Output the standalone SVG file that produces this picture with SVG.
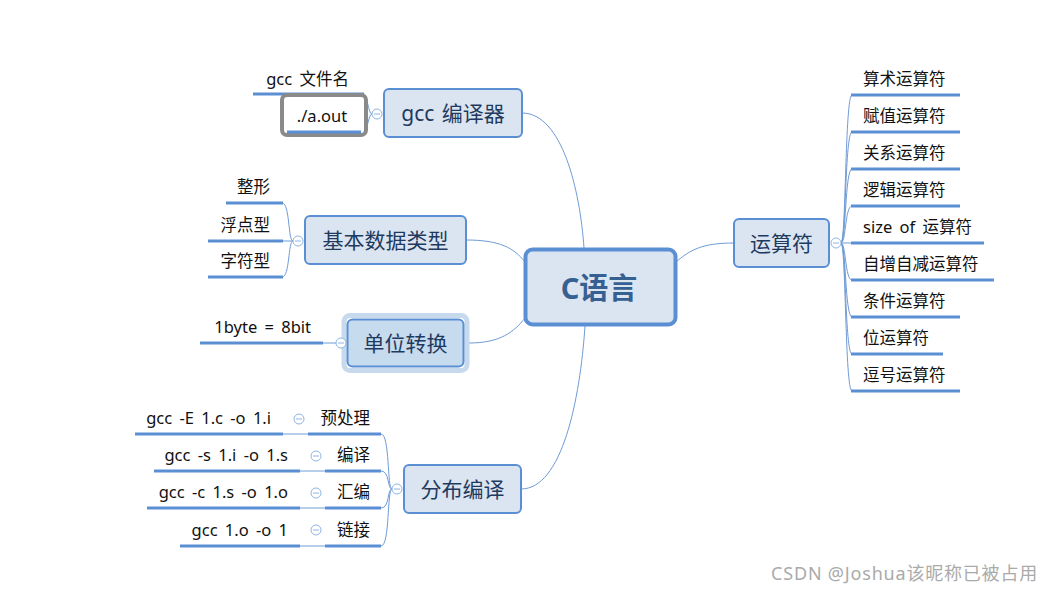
<svg xmlns="http://www.w3.org/2000/svg" width="1053" height="593" viewBox="0 0 1053 593">
<style>
.box{fill:#dbe5f1;stroke:#5b8fd4;stroke-width:2}
.nt{font-family:"Noto Sans","Noto Sans CJK SC",sans-serif;font-size:21px;fill:#1f3a60;text-anchor:middle;word-spacing:2px}
.ct{font-family:"Noto Sans","Noto Sans CJK SC",sans-serif;font-size:16.5px;fill:#111;word-spacing:3px}
.ul{stroke:#5b8fd4;stroke-width:3;fill:none}
.cn{stroke:#6f9bd6;stroke-width:1;fill:none}
.cc{fill:#fff;stroke:#8eb4e3;stroke-width:1}
.cm{stroke:#8eb4e3;stroke-width:1}
.e{text-anchor:end}
</style>
<rect width="1053" height="593" fill="#fff"/>
<g id="connectors">
<path class="cn" d="M522,113 C562,113 580,190 584,248"/>
<path class="cn" d="M466,240 C500,240 514,248 525,262"/>
<path class="cn" d="M469,343 C500,343 514,332 525,318"/>
<path class="cn" d="M521,489 C562,489 580,400 585,326"/>
<path class="cn" d="M734,243 C702,243 690,250 676,262"/>
<path class="cn" d="M372,114 C368,114 368,94 362,94"/>
<path class="cn" d="M372,114 C368,114 368,133 362,133"/>
<path class="cn" d="M293,241 C288,241 290,203 282,203"/>
<path class="cn" d="M293,241 L282,241"/>
<path class="cn" d="M293,241 C288,241 290,277 282,277"/>
<path class="cn" d="M336,343 L323,343"/>
<path class="cn" d="M392,489 C387,489 390,434 381,434"/>
<path class="cn" d="M392,489 C387,489 390,471 381,471"/>
<path class="cn" d="M392,489 C387,489 390,508 381,508"/>
<path class="cn" d="M392,489 C387,489 390,546 381,546"/>
<path class="cn" d="M283,434 L308,434"/>
<path class="cn" d="M300,471 L325,471"/>
<path class="cn" d="M300,508 L325,508"/>
<path class="cn" d="M300,546 L325,546"/>
<path class="cn" d="M841,243 C846,243 845,95 852,95"/>
<path class="cn" d="M841,243 C846,243 845,132 852,132"/>
<path class="cn" d="M841,243 C846,243 845,169 852,169"/>
<path class="cn" d="M841,243 C846,243 845,206 852,206"/>
<path class="cn" d="M841,243 L852,243"/>
<path class="cn" d="M841,243 C846,243 845,280 852,280"/>
<path class="cn" d="M841,243 C846,243 845,317 852,317"/>
<path class="cn" d="M841,243 C846,243 845,354 852,354"/>
<path class="cn" d="M841,243 C846,243 845,391 852,391"/>
</g>
<g id="center">
<rect x="525.5" y="249.5" width="150" height="75" rx="7" fill="#dbe5f1" stroke="#5b8fd4" stroke-width="4"/>
<text x="599" y="299" font-family="Noto Sans,'Noto Sans CJK SC',sans-serif" font-size="29" font-weight="bold" fill="#376092" text-anchor="middle">C语言</text>
</g>
<g id="gcc">
<rect class="box" x="384" y="89" width="138" height="48" rx="5"/>
<text class="nt" x="453" y="121">gcc 编译器</text>
<circle class="cc" cx="377" cy="114" r="5"/><line class="cm" x1="374" y1="114" x2="380" y2="114"/>
</g>
<g id="gcc-filename">
<line class="ul" x1="253" y1="94" x2="364" y2="94"/>
<text class="ct e" x="349" y="85">gcc 文件名</text>
</g>
<g id="aout">
<rect x="282" y="95" width="84" height="40" rx="5" fill="#fff" stroke="#8a8a8a" stroke-width="4"/>
<line class="ul" x1="287" y1="132" x2="361" y2="132"/>
<text class="ct" x="322" y="122" text-anchor="middle">./a.out</text>
</g>
<g id="basic">
<rect class="box" x="305" y="216" width="161" height="48" rx="5"/>
<text class="nt" x="385.5" y="248">基本数据类型</text>
<circle class="cc" cx="298" cy="241" r="5"/><line class="cm" x1="295" y1="241" x2="301" y2="241"/>
</g>
<g id="int"><line class="ul" x1="226" y1="203" x2="283" y2="203"/><text class="ct e" x="270" y="193">整形</text></g>
<g id="float"><line class="ul" x1="208" y1="241" x2="283" y2="241"/><text class="ct e" x="270" y="231">浮点型</text></g>
<g id="char"><line class="ul" x1="208" y1="277" x2="283" y2="277"/><text class="ct e" x="270" y="267">字符型</text></g>
<g id="unit">
<rect x="344" y="315.5" width="123" height="55" rx="6" fill="none" stroke="#c6d9ed" stroke-width="5"/>
<rect x="347.5" y="319.5" width="116" height="47" rx="5" fill="#c6dbee" stroke="#5b8fd4" stroke-width="2"/>
<text class="nt" x="405.5" y="351">单位转换</text>
<circle class="cc" cx="341" cy="343" r="5"/><line class="cm" x1="338" y1="343" x2="344" y2="343"/>
</g>
<g id="byte"><line class="ul" x1="200" y1="343" x2="323" y2="343"/><text class="ct e" x="311" y="333">1byte = 8bit</text></g>
<g id="dist">
<rect class="box" x="404" y="465" width="117" height="48" rx="5"/>
<text class="nt" x="462.5" y="497">分布编译</text>
<circle class="cc" cx="397" cy="489" r="5"/><line class="cm" x1="394" y1="489" x2="400" y2="489"/>
</g>
<g id="pre">
<line class="ul" x1="308" y1="434" x2="381" y2="434"/><text class="ct e" x="370" y="424">预处理</text>
<circle class="cc" cx="299" cy="419" r="5"/><line class="cm" x1="296" y1="419" x2="302" y2="419"/>
</g>
<g id="pre-cmd"><line class="ul" x1="135" y1="434" x2="283" y2="434"/><text class="ct e" x="271" y="424">gcc -E 1.c -o 1.i</text></g>
<g id="comp">
<line class="ul" x1="325" y1="471" x2="381" y2="471"/><text class="ct e" x="370" y="461">编译</text>
<circle class="cc" cx="316" cy="456" r="5"/><line class="cm" x1="313" y1="456" x2="319" y2="456"/>
</g>
<g id="comp-cmd"><line class="ul" x1="154" y1="471" x2="300" y2="471"/><text class="ct e" x="288" y="461">gcc -s 1.i -o 1.s</text></g>
<g id="asm">
<line class="ul" x1="325" y1="508" x2="381" y2="508"/><text class="ct e" x="370" y="498">汇编</text>
<circle class="cc" cx="316" cy="493" r="5"/><line class="cm" x1="313" y1="493" x2="319" y2="493"/>
</g>
<g id="asm-cmd"><line class="ul" x1="147" y1="508" x2="300" y2="508"/><text class="ct e" x="288" y="498">gcc -c 1.s -o 1.o</text></g>
<g id="link">
<line class="ul" x1="325" y1="546" x2="381" y2="546"/><text class="ct e" x="370" y="536">链接</text>
<circle class="cc" cx="316" cy="530" r="5"/><line class="cm" x1="313" y1="530" x2="319" y2="530"/>
</g>
<g id="link-cmd"><line class="ul" x1="180" y1="546" x2="300" y2="546"/><text class="ct e" x="288" y="536">gcc 1.o -o 1</text></g>
<g id="ops">
<rect class="box" x="734" y="219" width="95" height="48" rx="5"/>
<text class="nt" x="781.5" y="251">运算符</text>
<circle class="cc" cx="836" cy="243" r="5"/><line class="cm" x1="833" y1="243" x2="839" y2="243"/>
</g>
<g id="op1"><line class="ul" x1="851" y1="95" x2="960" y2="95"/><text class="ct" x="863" y="85">算术运算符</text></g>
<g id="op2"><line class="ul" x1="851" y1="132" x2="960" y2="132"/><text class="ct" x="863" y="122">赋值运算符</text></g>
<g id="op3"><line class="ul" x1="851" y1="169" x2="960" y2="169"/><text class="ct" x="863" y="159">关系运算符</text></g>
<g id="op4"><line class="ul" x1="851" y1="206" x2="960" y2="206"/><text class="ct" x="863" y="196">逻辑运算符</text></g>
<g id="op5"><line class="ul" x1="851" y1="243" x2="984" y2="243"/><text class="ct" x="863" y="233">size of 运算符</text></g>
<g id="op6"><line class="ul" x1="851" y1="280" x2="994" y2="280"/><text class="ct" x="863" y="270">自增自减运算符</text></g>
<g id="op7"><line class="ul" x1="851" y1="317" x2="960" y2="317"/><text class="ct" x="863" y="307">条件运算符</text></g>
<g id="op8"><line class="ul" x1="851" y1="354" x2="943" y2="354"/><text class="ct" x="863" y="344">位运算符</text></g>
<g id="op9"><line class="ul" x1="851" y1="391" x2="960" y2="391"/><text class="ct" x="863" y="381">逗号运算符</text></g>
<text x="1038" y="580" font-family="Noto Sans,'Noto Sans CJK SC',sans-serif" font-size="18" letter-spacing="0.8" fill="#aaa" text-anchor="end">CSDN @Joshua该昵称已被占用</text>
</svg>
